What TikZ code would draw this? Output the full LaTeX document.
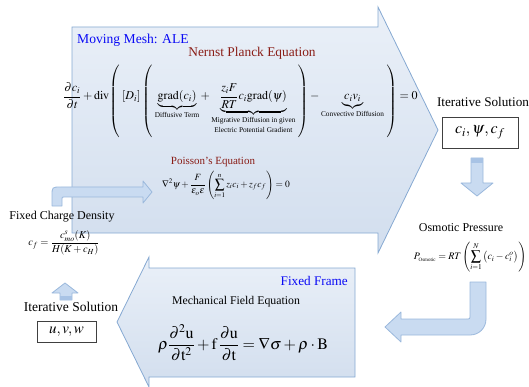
\documentclass[tikz,border=0pt]{standalone}
\usepackage{amsmath}
\usepackage{mathptmx}
\usepackage{fontspec}
\setmainfont{Liberation Serif}
\definecolor{bigline}{HTML}{86A9D2}
\definecolor{bigtop}{HTML}{EAF0F8}
\definecolor{bigbot}{HTML}{D2DEEE}
\definecolor{smallfill}{HTML}{C9DBF1}
\definecolor{smallline}{HTML}{9AB8DC}
\definecolor{smallband}{HTML}{A8C3E5}
\definecolor{eqred}{HTML}{8A1D17}
\definecolor{titleblue}{HTML}{0A0AF5}
\newcommand{\tallparL}[1]{\raisebox{-4.5pt}{$\left#1\vcenter{\hbox{\rule{0pt}{73pt}}}\right.$}}
\newcommand{\tallparR}[1]{\raisebox{-4.5pt}{$\left.\vcenter{\hbox{\rule{0pt}{73pt}}}\right#1$}}
\newcommand{\ublab}[1]{\mbox{\fontsize{7.3}{8}\selectfont #1}}
\tikzset{
  bigarrow/.style={draw=bigline, line width=0.8pt, top color=bigtop, bottom color=bigbot},
  smallarrow/.style={draw=smallline, line width=0.8pt, fill=smallfill, line join=round},
  txt/.style={inner sep=0pt, font=\fontsize{#1}{#1}\selectfont},
  redtitle/.style={txt=#1, text=eqred},
  bluetitle/.style={txt=#1, text=titleblue},
  solbox/.style={draw=black!75, line width=0.6pt, inner sep=0pt}
}
\begin{document}
\begin{tikzpicture}[x=1pt,y=-1pt]
\useasboundingbox (0,0) rectangle (529,387);
% big right arrow (Moving Mesh)
\path[bigarrow] (72,27) -- (378,27) -- (378,7) -- (438,130) -- (378,253) -- (378,233) -- (72,233) -- cycle;
% big left arrow (Fixed Frame)
\path[bigarrow] (355,268) -- (149,268) -- (149,257) -- (117,322) -- (149,387) -- (149,377) -- (355,377) -- cycle;
% bent arrow top-left
\path[smallarrow] (52,206) -- (52,196) .. controls (52,187) .. (61,187) -- (143,187) -- (143,181) -- (152,192) -- (143,203) -- (143,197) -- (64,197) .. controls (62,197) .. (62,199) -- (62,206) -- cycle;
% down arrow right
\path[smallarrow] (471,158) -- (483,158) -- (483,183) -- (493,183) -- (477,196) -- (461,183) -- (471,183) -- cycle;
\fill[smallband] (471.4,158.4) rectangle (482.6,163);
% up arrow left
\path[smallarrow] (60,300) -- (72,300) -- (72,293) -- (78,293) -- (65,283) -- (52,293) -- (60,293) -- cycle;
\fill[smallband] (60.4,296) rectangle (71.6,299.6);
% bent arrow bottom-right
\path[smallarrow] (470,282) -- (486,282) -- (486,319) .. controls (486,328) and (479,335) .. (470,335) -- (401,335) -- (401,342) -- (385,327) -- (401,312) -- (401,319) -- (466,319) .. controls (470,319) .. (470,315) -- cycle;

% texts in moving mesh arrow
\node[bluetitle=13.6, anchor=west] (mm) at (77,40) {Moving Mesh: ALE};
\node[redtitle=13.4] (np) at (252,53) {Nernst Planck Equation};
\node[txt=12] (npeq) at (240.5,101.5) {$\dfrac{\partial c_i}{\partial t}+\mathrm{div}\tallparL(\left[D_i\right]\tallparL(\underbrace{\mathrm{grad}(c_i)}_{\ublab{Diffusive Term}}+\underbrace{\dfrac{z_iF}{RT}c_i\mathrm{grad}(\psi)}_{\ublab{\shortstack{Migrative Diffusion in given\\Electric Potential Gradient}}}\tallparR)-\underbrace{c_iv_i}_{\ublab{Convective Diffusion}}\tallparR)=0$};
\node[redtitle=11] (pt) at (213,162) {Poisson's Equation};
\node[txt=9.5] (peq) at (226,185) {$\nabla^2\psi+\dfrac{F}{\varepsilon_o\varepsilon}\left(\displaystyle\sum_{i=1}^{n}z_ic_i+z_fc_f\right)=0$};

% right side
\node[txt=13.2] (itR) at (483,102) {Iterative Solution};
\node[solbox, minimum width=76pt, minimum height=31pt, font=\fontsize{16}{16}\selectfont] (boxR) at (480,132.5) {$c_i,\psi,c_f$};
\node[txt=12] (osm) at (461,228) {Osmotic Pressure};
\node[txt=10] (posm) at (470,257) {$P_{\mbox{\fontsize{5}{5}\selectfont Osmotic}}=RT\left(\displaystyle\sum_{i=1}^{N}\left(c_i-c_i^o\vphantom{\displaystyle\sum}\right)\right)$};

% left side
\node[txt=12] (fcd) at (62,217) {Fixed Charge Density};
\node[txt=10.5] (cf) at (64,243) {$c_f=\dfrac{c^s_{mo}(K)}{H(K+c_H)}$};
\node[txt=13.5] (itL) at (71,307) {Iterative Solution};
\node[solbox, minimum width=59pt, minimum height=21pt, font=\fontsize{15}{15}\selectfont] (boxL) at (66.5,331.5) {$u,v,w$};

% fixed frame
\node[bluetitle=13.2, anchor=east] (ff) at (348,281) {Fixed Frame};
\node[txt=11.8] (mfe) at (236,302) {Mechanical Field Equation};
\node[txt=16] (mech) at (243,343) {$\rho\dfrac{\partial^2\mathrm{u}}{\partial\mathrm{t}^2}+\mathrm{f}\,\dfrac{\partial\mathrm{u}}{\partial\mathrm{t}}=\nabla\sigma+\rho\cdot\mathrm{B}$};
\end{tikzpicture}
\end{document}
